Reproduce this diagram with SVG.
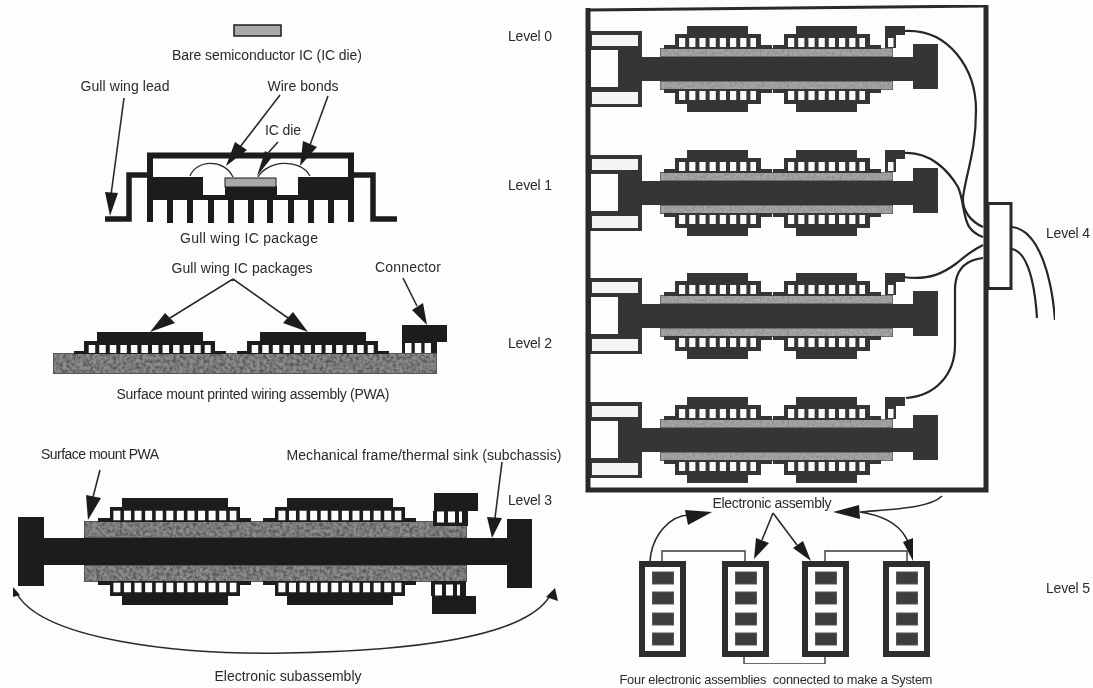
<svg xmlns="http://www.w3.org/2000/svg" width="1093" height="688" viewBox="0 0 1093 688">
<style>
.t{font-family:"Liberation Sans",Arial,sans-serif;font-size:14px;fill:#2a2a2a;text-anchor:middle}
.t2{font-size:12.800px}
.l{fill:none;stroke:#2a2a2a;stroke-width:1.6}
.w{fill:none;stroke:#262626;stroke-width:2.2}
.h{fill:#1c1c1c}
.k{fill:#1c1c1c}
.d{fill:#343434}
.win{fill:none;stroke:#fbfbfb}
.st{fill:#8e8e8e;stroke:#222;stroke-width:1;filter:url(#grain)}
.ls{fill:#a6a6a6;stroke:#2c2c2c;stroke-width:1;filter:url(#grain2)}
.box{fill:#fdfdfd;stroke:#2e2e2e;stroke-width:6}
.sm{fill:#3c3c3c;stroke:#555;stroke-width:1}
.thin{fill:none;stroke:#3a3a3a;stroke-width:1.4}
</style>
<defs>
<filter id="soft" x="0" y="0" width="1" height="1"><feGaussianBlur stdDeviation="0.55"/></filter>
<filter id="grain" x="0" y="0" width="1" height="1"><feTurbulence type="fractalNoise" baseFrequency="0.3" numOctaves="2" seed="3"/><feColorMatrix values="0 0 0 0 .1 0 0 0 0 .1 0 0 0 0 .1 2.4 0 0 0 -0.75"/><feComposite in2="SourceGraphic" operator="in" result="n"/><feMerge><feMergeNode in="SourceGraphic"/><feMergeNode in="n"/></feMerge></filter>
<filter id="grain2" x="0" y="0" width="1" height="1"><feTurbulence type="fractalNoise" baseFrequency="0.4" numOctaves="1" seed="8"/><feColorMatrix values="0 0 0 0 .2 0 0 0 0 .2 0 0 0 0 .2 1.5 0 0 0 -0.55"/><feComposite in2="SourceGraphic" operator="in" result="n"/><feMerge><feMergeNode in="SourceGraphic"/><feMergeNode in="n"/></feMerge></filter>
<g id="pkg2">
<polygon class="k" points="0,1 0,-2 10,-2 10,-12 23,-12 23,-21 129,-21 129,-12 141,-12 141,-2 152,-2 152,1"/>
<line class="win" x1="14.7" y1="-4" x2="136.7" y2="-4" stroke-width="8" stroke-dasharray="6.500 4.050"/>
</g>
<g id="pkg3">
<polygon class="k" points="0,1 0,-3 12,-3 12,-14 24,-14 24,-23 130,-23 130,-14 142,-14 142,-3 153,-3 153,1"/>
<line class="win" x1="15.4" y1="-5.500" x2="138.4" y2="-5.500" stroke-width="9.500" stroke-dasharray="7 3.580"/>
</g>
<g id="con3">
<polygon class="k" points="0,2 0,-13 1,-13 1,-31 45,-31 45,-13 35,-13 35,2"/>
<line class="win" x1="4" y1="-7" x2="29" y2="-7" stroke-width="11" stroke-dasharray="7 4"/>
</g>
<g id="pkgR">
<polygon class="d" points="0,1 0,-3 11,-3 11,-14 23,-14 23,-22 84,-22 84,-14 97,-14 97,-3 108,-3 108,1"/>
<line class="win" x1="15" y1="-5.500" x2="92" y2="-5.500" stroke-width="9" stroke-dasharray="6.200 4"/>
</g>
<g id="conR">
<polygon class="d" points="0,0 0,-22 20,-22 20,-13 11,-13 11,0"/>
<line class="win" x1="3" y1="-5.500" x2="8.500" y2="-5.500" stroke-width="9"/>
</g>
<g id="asm">
<rect class="d" x="590" y="31" width="52" height="76"/>
<rect x="592" y="35" width="46" height="11" fill="#f4f4f4"/>
<rect x="591" y="50" width="27" height="37" fill="#fdfdfd"/>
<rect x="592" y="92" width="46" height="12" fill="#f4f4f4"/>
<rect class="ls" x="660" y="48" width="233" height="9"/>
<rect class="ls" x="660" y="81" width="233" height="9"/>
<rect class="d" x="642" y="57" width="272" height="24"/>
<rect class="d" x="913" y="44" width="25" height="45"/>
<use href="#pkgR" x="664" y="48"/>
<use href="#pkgR" x="773" y="48"/>
<use href="#conR" x="885" y="48"/>
<use href="#pkgR" transform="translate(664,90) scale(1,-1)"/>
<use href="#pkgR" transform="translate(773,90) scale(1,-1)"/>
</g>
<g id="sys">
<rect class="box" x="3" y="3" width="41" height="90"/>
<rect class="sm" x="13.500" y="11" width="21" height="12"/>
<rect class="sm" x="13.500" y="31" width="21" height="12"/>
<rect class="sm" x="13.500" y="52" width="21" height="12"/>
<rect class="sm" x="13.500" y="72" width="21" height="12"/>
</g>
</defs>
<rect width="1093" height="688" fill="#fdfdfd"/>
<g filter="url(#soft)">
<g id="ic-die"><rect x="234" y="25" width="47" height="11" fill="#a9a9a9" stroke="#1c1c1c" stroke-width="1.500"/></g>
<g id="gull-wing-package">
<path d="M150,222V155.500H351V222" fill="none" stroke="#1c1c1c" stroke-width="6"/>
<path d="M105,219H129V175H148M351,175H373V219H397" fill="none" stroke="#1c1c1c" stroke-width="5.500"/>
<rect class="k" x="148" y="177" width="55" height="20"/>
<rect class="k" x="298" y="177" width="55" height="20"/>
<rect class="k" x="148" y="195" width="205" height="5"/>
<rect class="k" x="225" y="186" width="52" height="11"/>
<rect x="225" y="178" width="51" height="9" fill="#a9a9a9" stroke="#1c1c1c"/>
<path class="k" d="M167,197h6v26h-6zM187,197h6v26h-6zM208,197h6v26h-6zM228,197h6v26h-6zM248,197h6v26h-6zM267,197h6v26h-6zM288,197h6v26h-6zM308,197h6v26h-6zM328,197h6v26h-6z"/>
<path d="M190,176C196,160 224,158 233,177M258,177C268,160 300,158 310,176" fill="none" stroke="#2a2a2a" stroke-width="1.300"/>
</g>
<g id="surface-mount-pwa">
<rect class="st" x="53" y="353" width="384" height="21"/>
<use href="#pkg2" x="74" y="353"/>
<use href="#pkg2" x="237" y="353"/>
<polygon class="k" points="402,353 402,325 447,325 447,342 437,342 437,353"/>
<line class="win" x1="405" y1="348" x2="431" y2="348" stroke-width="10" stroke-dasharray="6.500 3.300"/>
</g>
<g id="subassembly">
<rect class="st" x="84" y="521" width="383" height="17"/>
<rect class="st" x="84" y="565" width="383" height="17"/>
<rect class="k" x="18" y="517" width="26" height="69"/>
<rect class="k" x="43" y="538" width="465" height="27"/>
<rect class="k" x="507" y="519" width="25" height="69"/>
<use href="#pkg3" x="98" y="521"/>
<use href="#pkg3" x="263" y="521"/>
<use href="#pkg3" transform="translate(98,582) scale(1,-1)"/>
<use href="#pkg3" transform="translate(263,582) scale(1,-1)"/>
<use href="#con3" x="433" y="524"/>
<use href="#con3" transform="translate(431,583) scale(1,-1)"/>
</g>
<g id="assembly-0"><use href="#asm"/></g>
<g id="assembly-1"><use href="#asm" y="124"/></g>
<g id="assembly-2"><use href="#asm" y="247"/></g>
<g id="assembly-3"><use href="#asm" y="371"/></g>
<g id="electronic-assembly-frame">
<path d="M588,10L986,6" fill="none" stroke="#2a2a2a" stroke-width="3"/>
<path d="M588,8V490H986V5" fill="none" stroke="#2a2a2a" stroke-width="5"/>
</g>
<g id="level4-connector"><rect x="988" y="203.500" width="23" height="85" fill="#fdfdfd" stroke="#2a2a2a" stroke-width="3"/></g>
<g id="system-1"><use href="#sys" x="639" y="561"/></g>
<g id="system-2"><use href="#sys" x="722" y="561"/></g>
<g id="system-3"><use href="#sys" x="802" y="561"/></g>
<g id="system-4"><use href="#sys" x="883" y="561"/></g>
<g id="connectors">
<path class="l" d="M124,98L111,195M280,95L240,147M328,96L310,145M278,142L268,153"/>
<polygon class="h" points="105,192 118,193 110,216"/>
<polygon class="h" points="235,142 247,150 226,166"/>
<polygon class="h" points="303,141 317,147 300,166"/>
<polygon class="h" points="265,151 273,156 257,176"/>
<path class="l" d="M233,279L170,318M233,279L288,318M403,278L417,306"/>
<polygon class="h" points="165,313 175,323 150,332"/>
<polygon class="h" points="293,312 283,323 308,332"/>
<polygon class="h" points="412,310 423,303 427,325"/>
<path class="l" d="M100,470L93,497M502,462L495,518"/>
<polygon class="h" points="86,495 101,498 88,520"/>
<polygon class="h" points="487,517 502,518 492,538"/>
<path class="l" d="M16,592C40,640 180,655 285,653C400,651 530,640 552,592"/>
<polygon class="h" points="13,587 20,595 13,597"/>
<polygon class="h" points="555,588 558,601 546,597"/>
<path class="w" d="M905,31C950,29 976,70 976,110C976,150 967,170 963,197C962,212 972,222 983,227"/>
<path class="w" d="M905,153C930,152 948,170 958,187C964,200 963,220 970,228C974,233 980,236 983,237"/>
<path class="w" d="M903,277C930,281 945,272 957,263C965,256 975,249 983,245"/>
<path class="w" d="M983,258C965,260 955,270 955,290V345C955,375 935,396 906,398"/>
<path class="w" d="M1012,227C1040,230 1052,280 1055,320M1012,249C1028,252 1035,285 1037,318"/>
<path class="thin" d="M662,561V551H745V561M825,561V551H907V561M744,657V664H825V657"/>
<path class="l" d="M650,561C652,535 670,515 690,515M773,513L762,540M773,513L797,545"/>
<polygon class="h" points="685,510 688,525 712,512"/>
<polygon class="h" points="756,538 769,543 754,559"/>
<polygon class="h" points="803,541 793,548 811,561"/>
<path class="l" d="M942,496C930,508 895,509 860,512C880,515 900,522 908,542"/>
<polygon class="h" points="859,505 860,519 833,512"/>
<polygon class="h" points="903,542 913,538 913,561"/>
</g>
</g>
<g id="labels">
<text class="t" x="267" y="60" textLength="190">Bare semiconductor IC (IC die)</text>
<text class="t" x="125" y="91" textLength="89">Gull wing lead</text>
<text class="t" x="303" y="91" textLength="71">Wire bonds</text>
<text class="t" x="283" y="135" textLength="36">IC die</text>
<text class="t" x="249" y="243" textLength="138">Gull wing IC package</text>
<text class="t" x="242" y="273" textLength="141">Gull wing IC packages</text>
<text class="t" x="408" y="272" textLength="66">Connector</text>
<text class="t" x="253" y="399" textLength="273">Surface mount printed wiring assembly (PWA)</text>
<text class="t" x="100" y="459" textLength="118">Surface mount PWA</text>
<text class="t" x="424" y="460" textLength="275">Mechanical frame/thermal sink (subchassis)</text>
<text class="t" x="288" y="681" textLength="147">Electronic subassembly</text>
<text class="t" x="530" y="41" textLength="44">Level 0</text>
<text class="t" x="530" y="190" textLength="44">Level 1</text>
<text class="t" x="530" y="348" textLength="44">Level 2</text>
<text class="t" x="530" y="505" textLength="44">Level 3</text>
<text class="t" x="1068" y="238" textLength="44">Level 4</text>
<text class="t" x="1068" y="593" textLength="44">Level 5</text>
<text class="t" x="772" y="508" textLength="119">Electronic assembly</text>
<text class="t t2" x="776" y="684" textLength="313" xml:space="preserve">Four electronic assemblies  connected to make a System</text>
</g>
</svg>
